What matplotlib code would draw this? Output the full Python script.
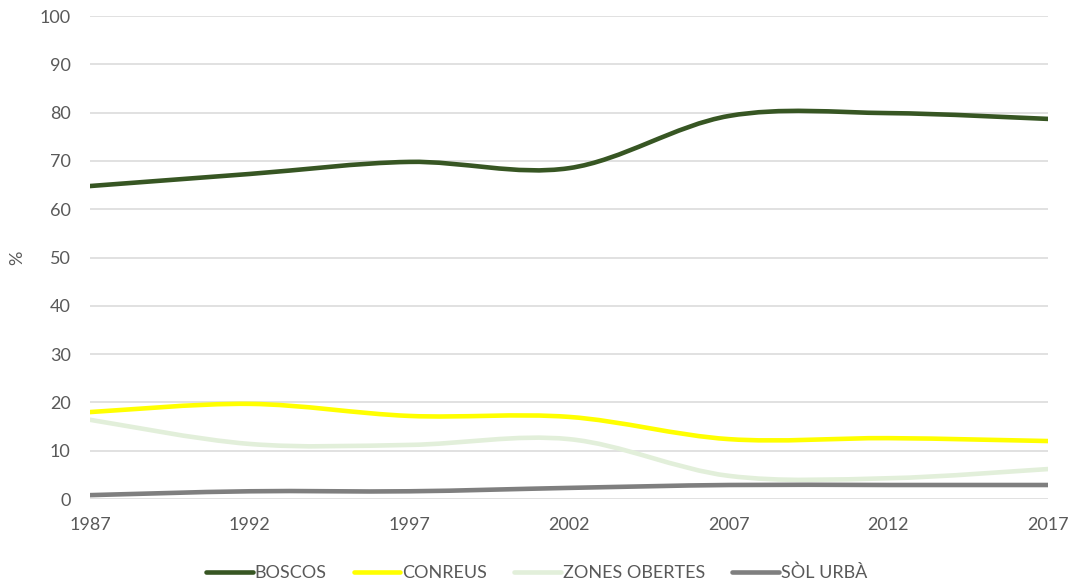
import numpy as np
import matplotlib
matplotlib.use("Agg")
import matplotlib.pyplot as plt
from matplotlib.path import Path
from matplotlib.patches import PathPatch
from matplotlib.lines import Line2D

plt.rcParams['font.family'] = ['Lato', 'DejaVu Sans']

years = ['1987', '1992', '1997', '2002', '2007', '2012', '2017']
boscos = [64.8, 67.3, 69.8, 68.5, 79.3, 79.9, 78.7]
conreus = [18.0, 19.7, 17.2, 17.0, 12.4, 12.6, 12.0]
zones_obertes = [16.4, 11.4, 11.2, 12.4, 4.8, 4.3, 6.2]
sol_urba = [0.8, 1.6, 1.6, 2.3, 2.9, 2.9, 2.9]

series = [
    ("BOSCOS", boscos, "#375623"),
    ("CONREUS", conreus, "#FFFF00"),
    ("ZONES OBERTES", zones_obertes, "#E2EFDA"),
    ("SÒL URBÀ", sol_urba, "#7F7F7F"),
]

LW = 3.3
FS = 13

def smooth_path(x, y):
    # Excel-like smoothed line as cubic bezier segments
    pts = np.column_stack([x, y]).astype(float)
    n = len(pts)
    verts = [pts[0]]
    codes = [Path.MOVETO]
    for i in range(n - 1):
        p0 = pts[max(i - 1, 0)]
        p1 = pts[i]
        p2 = pts[i + 1]
        p3 = pts[min(i + 2, n - 1)]
        c1 = p1 + (p2 - p0) / 6.0
        c2 = p2 - (p3 - p1) / 6.0
        verts += [c1, c2, p2]
        codes += [Path.CURVE4] * 3
    return Path(verts, codes)

fig = plt.figure(figsize=(10.73, 5.85), dpi=100)
ax = fig.add_axes([0.0839, 0.147, 0.8928, 0.8256])

x = np.arange(len(years))
handles = []
for name, vals, col in series:
    p = PathPatch(smooth_path(x, vals), facecolor='none', edgecolor=col,
                  lw=LW, capstyle='round', joinstyle='round', zorder=3)
    ax.add_patch(p)
    handles.append(Line2D([], [], color=col, lw=LW, solid_capstyle='round'))

ax.set_xlim(0, len(years) - 1)
ax.set_ylim(0, 100)
ax.set_xticks(x)
ax.set_xticklabels(years)
ax.set_yticks(np.arange(0, 101, 10))
ax.yaxis.grid(True, color='#D9D9D9', lw=1.1)
ax.set_axisbelow(True)
for s in ax.spines.values():
    s.set_visible(False)
ax.tick_params(length=0, labelsize=FS, colors='#595959')
ax.tick_params(axis='x', pad=13)
ax.tick_params(axis='y', pad=14)
ax.set_ylabel('%', fontsize=FS, color='#595959')
ax.yaxis.set_label_coords(-0.068, 0.5)

fig.legend(handles, [s[0] for s in series], loc='center', bbox_to_anchor=(0.5, 0.021),
           ncol=4, frameon=False, fontsize=FS, handlelength=2.6, handletextpad=0.1,
           columnspacing=1.5, labelcolor='#595959')

fig.savefig('out.png', dpi=100)
